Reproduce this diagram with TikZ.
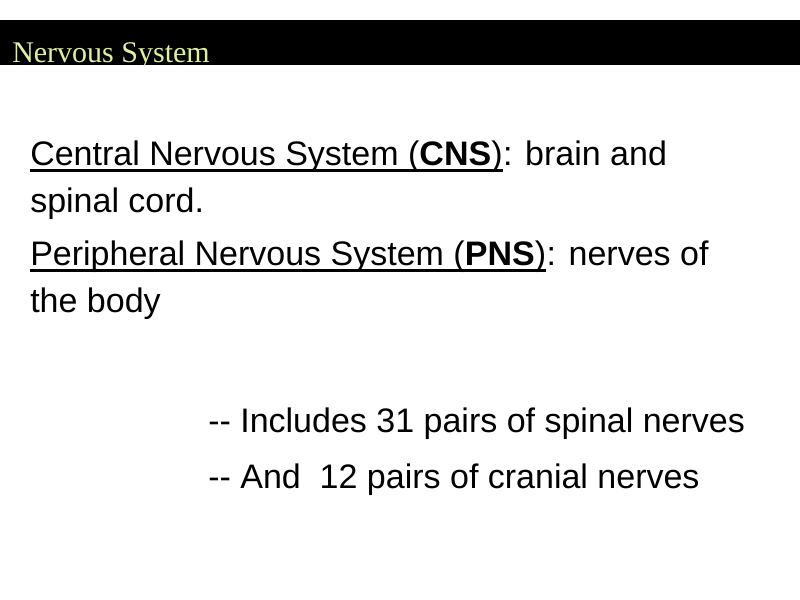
\documentclass[tikz,border=0pt]{standalone}
\usepackage{fontspec}
\setmainfont{Liberation Sans}
\newfontfamily\serifti{Liberation Serif}
\definecolor{titlegreen}{HTML}{DDF29A}
\begin{document}
\begin{tikzpicture}[x=0.75pt,y=-0.75pt,
  body/.style={anchor=base west,inner sep=0pt,font=\fontsize{25.5}{30}\selectfont},
  uline/.style={line width=1.8pt}]
\useasboundingbox (0,0) rectangle (800,600);
\fill[white] (0,0) rectangle (800,600);
\fill[black] (0,20) rectangle (800,65);
\begin{scope}
\clip (0,20) rectangle (800,65);
\node[anchor=base west,inner sep=0pt,text=titlegreen,font=\serifti\fontsize{22.5}{26}\selectfont] (title) at (12,62) {Nervous System};
\end{scope}
\node[body] (u1) at (30,165) {Central Nervous System (\textbf{CNS})};
\node[body] (r1) at (u1.base east) {: brain and};
\draw[uline] ([yshift=-4pt]u1.base west) -- ([yshift=-4pt]u1.base east);
\node[body] (l2) at (30,212) {spinal cord.};
\node[body] (u3) at (30,265) {Peripheral Nervous System (\textbf{PNS})};
\node[body] (r3) at (u3.base east) {: nerves of};
\draw[uline] ([yshift=-4pt]u3.base west) -- ([yshift=-4pt]u3.base east);
\node[body] (l4) at (30,312) {the body};
\node[body] (l5) at (208,432) {{-}{-} Includes 31 pairs of spinal nerves};
\node[body] (l6) at (208,488) {{-}{-} And\ \ 12 pairs of cranial nerves};
\end{tikzpicture}
\end{document}
